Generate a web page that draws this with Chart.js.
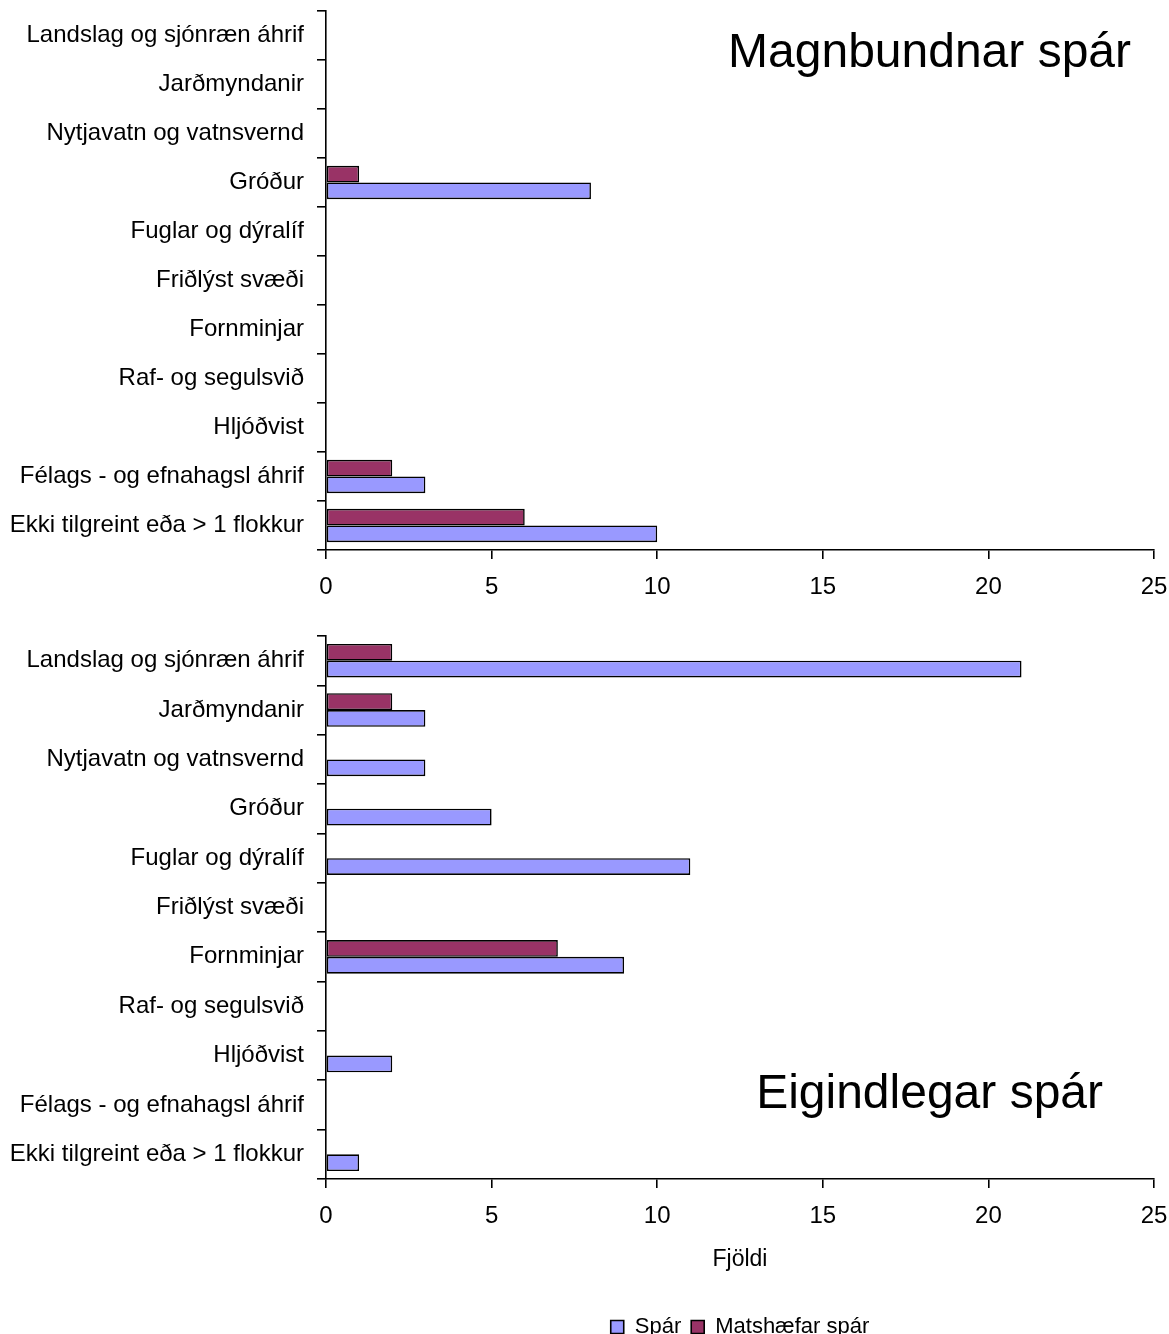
<!DOCTYPE html>
<html>
<head>
<meta charset="utf-8">
<script src="https://cdn.jsdelivr.net/npm/chart.js@4/dist/chart.umd.min.js"></script>
<style>
  body { margin: 0; background: #fff; width: 1169px; height: 1334px; overflow: hidden; }
  .box { position: absolute; left: 0; width: 1169px; }
</style>
</head>
<body>
<div class="box" style="top:0;height:610px"><canvas id="topChart" width="1169" height="610"></canvas></div>
<div class="box" style="top:610px;height:724px"><canvas id="bottomChart" width="1169" height="724"></canvas></div>
<script>
// Flokkar (categories)
var flokkar = [
    'Landslag og sjónræn áhrif',
    'Jarðmyndanir',
    'Nytjavatn og vatnsvernd',
    'Gróður',
    'Fuglar og dýralíf',
    'Friðlýst svæði',
    'Fornminjar',
    'Raf- og segulsvið',
    'Hljóðvist',
    'Félags - og efnahagsl áhrif',
    'Ekki tilgreint eða > 1 flokkur'
];
// Magnbundnar spár
var magnSpar = [0, 0, 0, 8, 0, 0, 0, 0, 0, 3, 10];
var magnMatshaefar = [0, 0, 0, 1, 0, 0, 0, 0, 0, 2, 6];
// Eigindlegar spár
var eigSpar = [21, 3, 3, 5, 11, 0, 9, 0, 2, 0, 1];
var eigMatshaefar = [2, 2, 0, 0, 0, 0, 7, 0, 0, 0, 0];

var xTicks = [0, 5, 10, 15, 20, 25];
var heitiSpar = 'Spár';
var heitiMatshaefar = 'Matshæfar spár';
var xTitill = 'Fjöldi';

var FONT = 'Liberation Sans, Arial, sans-serif';
Chart.defaults.font.family = FONT;
Chart.defaults.color = '#000';

// Stór titill inni í grafinu
var textiPlugin = {
    id: 'stortexti',
    afterDraw: function(chart, args, opts) {
        var ctx = chart.ctx;
        var area = chart.chartArea;
        ctx.save();
        ctx.font = '48px ' + FONT;
        ctx.fillStyle = '#000';
        ctx.textAlign = 'right';
        ctx.textBaseline = 'middle';
        ctx.fillText(opts.text, area.right - opts.dx, area.top + opts.dy);
        ctx.restore();
    }
};

function gognGrafs(spar, matshaefar) {
    return {
        labels: flokkar,
        datasets: [
            {
                label: heitiMatshaefar,
                data: matshaefar,
                backgroundColor: '#993366',
                borderColor: '#000',
                borderWidth: 1.6,
                borderSkipped: false
            },
            {
                label: heitiSpar,
                data: spar,
                backgroundColor: '#9999FF',
                borderColor: '#000',
                borderWidth: 1.6,
                borderSkipped: false
            }
        ]
    };
}

function stillingar(titill, dx, dy, medLegend, xHaed) {
    return {
        indexAxis: 'y',
        responsive: false,
        animation: false,
        devicePixelRatio: 1,
        categoryPercentage: 0.68,
        barPercentage: 1.0,
        layout: { padding: { top: medLegend ? 26 : 11, right: 15, left: 0, bottom: medLegend ? -14 : 0 } },
        scales: {
            x: {
                min: 0,
                max: 25,
                afterBuildTicks: function(s) { s.ticks = xTicks.map(function(v) { return { value: v }; }); },
                afterFit: function(s) { s.height = xHaed; s.paddingLeft = 0; s.paddingRight = 0; },
                grid: { drawOnChartArea: false, drawTicks: true, tickLength: 9, color: '#000', lineWidth: 1.6 },
                border: { color: '#000', width: 1.6 },
                ticks: { font: { size: 24 }, padding: 14, color: '#000', maxRotation: 0 },
                title: {
                    display: medLegend,
                    text: xTitill,
                    font: { size: 23 },
                    color: '#000',
                    padding: { top: 0, bottom: 33 }
                }
            },
            y: {
                afterFit: function(s) { s.width = 326; s.paddingTop = 0; s.paddingBottom = 0; },
                grid: { drawOnChartArea: false, drawTicks: true, tickLength: 9, color: '#000', lineWidth: 1.6, offset: true },
                border: { color: '#000', width: 1.6 },
                ticks: { font: { size: 24 }, padding: 13, color: '#000', autoSkip: false }
            }
        },
        plugins: {
            legend: {
                display: medLegend,
                position: 'bottom',
                fullSize: false,
                labels: {
                    font: { size: 22 },
                    color: '#000',
                    boxWidth: 13,
                    boxHeight: 13,
                    padding: 10,
                    sort: function(a, b) { return b.datasetIndex - a.datasetIndex; }
                }
            },
            tooltip: { enabled: false },
            stortexti: { text: titill, dx: dx, dy: dy }
        }
    };
}

new Chart(document.getElementById('topChart').getContext('2d'), {
    type: 'bar',
    data: gognGrafs(magnSpar, magnMatshaefar),
    options: stillingar('Magnbundnar spár', 23, 43, false, 60),
    plugins: [textiPlugin]
});

new Chart(document.getElementById('bottomChart').getContext('2d'), {
    type: 'bar',
    data: gognGrafs(eigSpar, eigMatshaefar),
    options: stillingar('Eigindlegar spár', 51, 459, true, 127),
    plugins: [textiPlugin]
});
</script>
</body>
</html>
